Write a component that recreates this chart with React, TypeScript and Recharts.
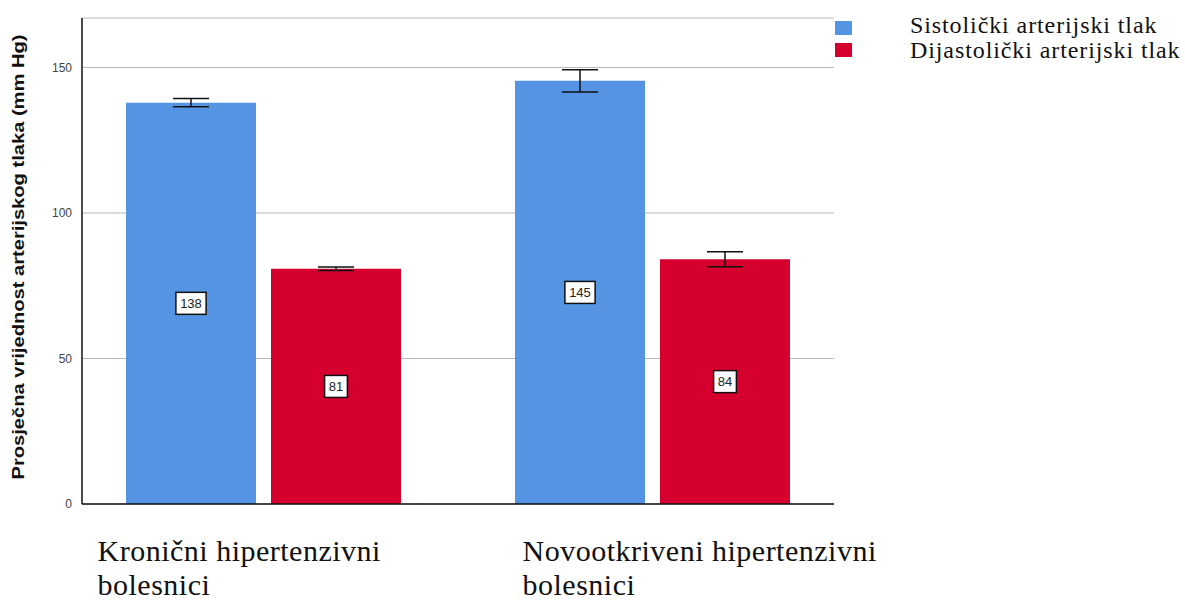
import React from "react"
import { BarChart, Bar, XAxis, YAxis, CartesianGrid, ErrorBar, LabelList } from "recharts"

// data
const groups = ["Kronični hipertenzivni bolesnici", "Novootkriveni hipertenzivni bolesnici"]
const systolic = [137.9, 145.4]
const systolicErr = [1.4, 3.8]
const diastolic = [80.8, 84.1]
const diastolicErr = [0.6, 2.6]
const yTicks = [0, 50, 100, 150]

const seriesNames = ["Sistolički arterijski tlak", "Dijastolički arterijski tlak"]
const colors = ["#5594E2", "#D6002F"]

// where each category caption starts, relative to its tick
const captionShift = [-166, -130]

const data = groups.map((g, i) => ({
  group: g,
  sys: systolic[i],
  sysErr: systolicErr[i],
  dia: diastolic[i],
  diaErr: diastolicErr[i],
}))

const ValueBox = (props: any) => {
  const { x, y, width, height, value } = props
  const txt = String(Math.round(value))
  const w = txt.length * 7.4 + 8
  const cx = x + width / 2
  const cy = y + height / 2
  return (
    <g>
      <rect x={cx - w / 2} y={cy - 11} width={w} height={22} fill="#fff" stroke="#111" strokeWidth={1.5} />
      <text x={cx} y={cy + 4.5} textAnchor="middle" fontFamily="Liberation Sans, Arial" fontSize={13} fill="#222">
        {txt}
      </text>
    </g>
  )
}

const CategoryTick = (props: any) => {
  const { x, y, payload, index } = props
  const words = String(payload.value).split(" ")
  const last = words.pop()
  const x0 = x + captionShift[index]
  return (
    <text
      x={x0}
      y={y + 49}
      fontFamily="Liberation Serif, Times New Roman"
      fontSize={30}
      letterSpacing={0.5}
      fill="#111"
    >
      <tspan x={x0}>{words.join(" ")}</tspan>
      <tspan x={x0} dy={34}>{last}</tspan>
    </text>
  )
}

const YTitle = (props: any) => {
  const vb = props.viewBox || { x: 0, y: 18, width: 82, height: 486 }
  const cx = vb.x + 18
  const cy = vb.y + vb.height / 2 - 4
  return (
    <text
      x={cx}
      y={cy}
      transform={`rotate(-90 ${cx} ${cy})`}
      textAnchor="middle"
      dominantBaseline="central"
      fontFamily="Liberation Sans, Arial"
      fontWeight="bold"
      fontSize={16}
      textLength={445}
      lengthAdjust="spacingAndGlyphs"
      fill="#111"
    >
      Prosječna vrijednost arterijskog tlaka (mm Hg)
    </text>
  )
}

export default function App() {
  return (
    <div style={{ position: "fixed", left: 0, top: 0, width: 1185, height: 603, background: "#fff", overflow: "hidden" }}>
      <BarChart
        width={1185}
        height={603}
        data={data}
        margin={{ top: 18, right: 351, bottom: 0, left: 0 }}
        barCategoryGap={57}
        barGap={15}
      >
        <CartesianGrid vertical={false} stroke="#b8b8b8" strokeWidth={1} />
        <XAxis
          dataKey="group"
          height={99}
          padding={{ left: -13, right: -13 }}
          axisLine={{ stroke: "#111", strokeWidth: 1.5 }}
          tickLine={false}
          interval={0}
          tick={<CategoryTick />}
        />
        <YAxis
          width={82}
          domain={[0, 167]}
          ticks={yTicks}
          axisLine={{ stroke: "#111", strokeWidth: 1.5 }}
          tickLine={false}
          tickMargin={4}
          tick={{ fill: "#444", fontSize: 12, fontFamily: "Liberation Sans, Arial" }}
          label={{ content: (p: any) => <YTitle {...p} /> }}
        />
        <Bar dataKey="sys" name={seriesNames[0]} fill={colors[0]} isAnimationActive={false}>
          <ErrorBar dataKey="sysErr" width={18} stroke="#111" strokeWidth={1.5} />
          <LabelList dataKey="sys" content={<ValueBox />} />
        </Bar>
        <Bar dataKey="dia" name={seriesNames[1]} fill={colors[1]} isAnimationActive={false}>
          <ErrorBar dataKey="diaErr" width={18} stroke="#111" strokeWidth={1.5} />
          <LabelList dataKey="dia" content={<ValueBox />} />
        </Bar>
      </BarChart>

      {/* legend, drawn by hand to sit in the top right corner */}
      <div style={{ position: "absolute", left: 835, top: 14, fontFamily: "Liberation Serif, Times New Roman", fontSize: 24, letterSpacing: 0.9, color: "#111" }}>
        {seriesNames.map((n, i) => (
          <div key={n} style={{ position: "relative", height: 25, whiteSpace: "nowrap" }}>
            <span style={{ position: "absolute", left: 0, top: 7 + i * -3, width: 17, height: 14, background: colors[i] }} />
            <span style={{ position: "absolute", left: 75, top: -1, lineHeight: "24px" }}>{n}</span>
          </div>
        ))}
      </div>
    </div>
  )
}
